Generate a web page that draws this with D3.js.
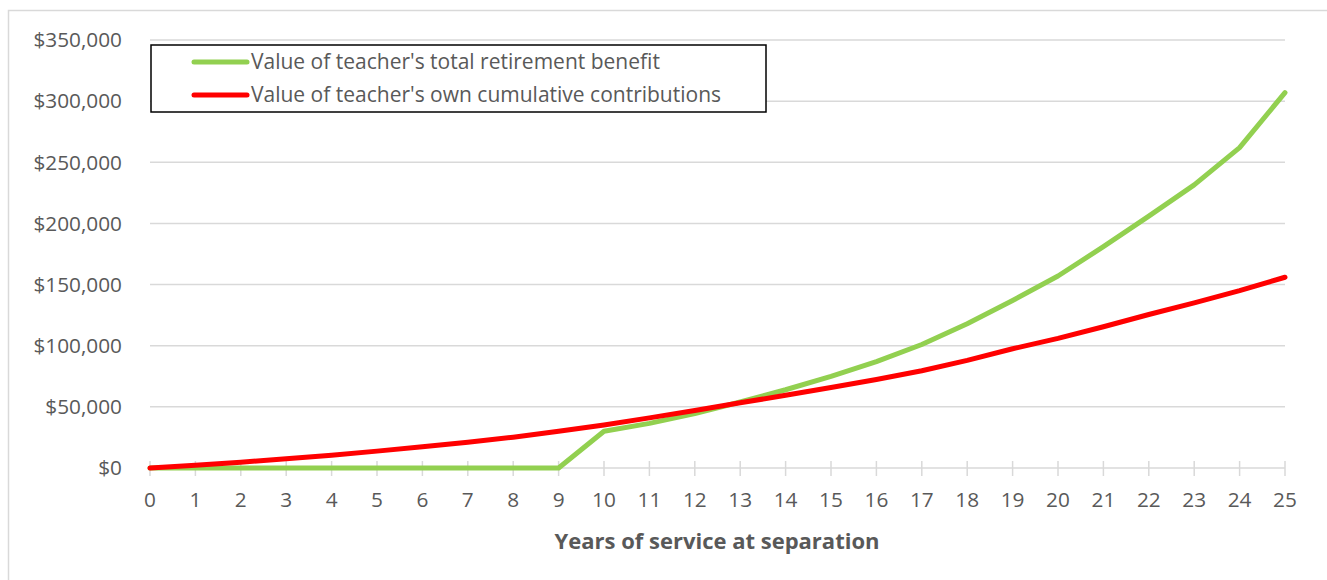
<!DOCTYPE html>
<html>
<head>
<meta charset="utf-8">
<script src="https://cdn.jsdelivr.net/npm/d3@7"></script>
<style>
  body { margin: 0; background: #fff; }
  text { font-family: "Open Sans", "Liberation Sans", sans-serif; fill: #595959; }
</style>
</head>
<body>
<div id="chart"></div>
<script>
// years of service at separation
const years = d3.range(0, 26);

// value of teacher's total retirement benefit ($)
const totalBenefit = [0, 0, 0, 0, 0, 0, 0, 0, 0, 0,
    30000, 36500, 44500, 54000, 64000, 75000, 87000, 101000, 118000, 137000,
    157000, 181000, 206000, 231500, 262000, 307000];

// value of teacher's own cumulative contributions ($)
const ownContrib = [0, 2200, 4700, 7600, 10500, 13800, 17300, 21100, 25200, 30000,
    35200, 41000, 47000, 53300, 59500, 65800, 72300, 79500, 88000, 97500,
    106000, 115500, 125500, 135000, 145000, 156000];

const yTicks = [0, 50000, 100000, 150000, 200000, 250000, 300000, 350000];

const seriesNames = ["Value of teacher's total retirement benefit",
    "Value of teacher's own cumulative contributions"];
const seriesColors = ["#92d050", "#ff0000"];

const W = 1327, H = 580;
const margin = { top: 40, right: 42, bottom: 112, left: 150 };
const width = W - margin.left - margin.right;
const height = H - margin.top - margin.bottom;

const svg = d3.select("#chart").append("svg")
    .attr("width", W)
    .attr("height", H);

// outer chart border
svg.append("rect")
    .attr("x", 8.5).attr("y", 10.5)
    .attr("width", 1340).attr("height", 600)
    .attr("fill", "none")
    .attr("stroke", "#d9d9d9")
    .attr("stroke-width", 1.5);

const g = svg.append("g")
    .attr("transform", "translate(" + margin.left + "," + margin.top + ")");

const x = d3.scaleLinear().domain([0, 25]).range([0, width]);
const y = d3.scaleLinear().domain([0, 350000]).range([height, 0]);

// gridlines
g.selectAll(".grid")
    .data(yTicks.slice(1))
    .enter().append("line")
    .attr("class", "grid")
    .attr("x1", 0).attr("x2", width)
    .attr("y1", d => y(d)).attr("y2", d => y(d))
    .attr("stroke", "#d9d9d9")
    .attr("stroke-width", 1.5);

// y labels
const fmt = d3.format("$,.0f");
g.selectAll(".ylab")
    .data(yTicks)
    .enter().append("text")
    .attr("class", "ylab")
    .attr("x", -28)
    .attr("y", d => y(d))
    .attr("dy", "0.35em")
    .attr("text-anchor", "end")
    .attr("font-size", 20.8)
    .text(d => fmt(d));

// x axis with crossing tick marks
g.append("line")
    .attr("x1", 0).attr("x2", width)
    .attr("y1", height).attr("y2", height)
    .attr("stroke", "#d9d9d9")
    .attr("stroke-width", 1.5);

g.selectAll(".xtick")
    .data(years)
    .enter().append("line")
    .attr("class", "xtick")
    .attr("x1", d => x(d)).attr("x2", d => x(d))
    .attr("y1", height - 7).attr("y2", height + 8)
    .attr("stroke", "#d9d9d9")
    .attr("stroke-width", 1.5);

g.selectAll(".xlab")
    .data(years)
    .enter().append("text")
    .attr("class", "xlab")
    .attr("x", d => x(d))
    .attr("y", height + 39)
    .attr("text-anchor", "middle")
    .attr("font-size", 20.8)
    .text(d => d);

g.append("text")
    .attr("x", 567)
    .attr("y", height + 81)
    .attr("text-anchor", "middle")
    .attr("font-size", 22)
    .attr("font-weight", "bold")
    .text("Years of service at separation");

// lines
const line = d3.line()
    .x((d, i) => x(years[i]))
    .y(d => y(d));

[totalBenefit, ownContrib].forEach((s, i) => {
    g.append("path")
        .datum(s)
        .attr("d", line)
        .attr("fill", "none")
        .attr("stroke", seriesColors[i])
        .attr("stroke-width", 5)
        .attr("stroke-linecap", "round")
        .attr("stroke-linejoin", "round");
});

// legend
const legend = svg.append("g").attr("transform", "translate(151,45)");
legend.append("rect")
    .attr("width", 615).attr("height", 67)
    .attr("fill", "#fff")
    .attr("stroke", "#000")
    .attr("stroke-width", 1.5);

seriesNames.forEach((name, i) => {
    const ly = 17 + i * 33;
    legend.append("line")
        .attr("x1", 43).attr("x2", 96)
        .attr("y1", ly).attr("y2", ly)
        .attr("stroke", seriesColors[i])
        .attr("stroke-width", 5)
        .attr("stroke-linecap", "round");
    legend.append("text")
        .attr("x", 100)
        .attr("y", ly)
        .attr("dy", "0.35em")
        .attr("font-size", 21)
        .text(name);
});
</script>
</body>
</html>
